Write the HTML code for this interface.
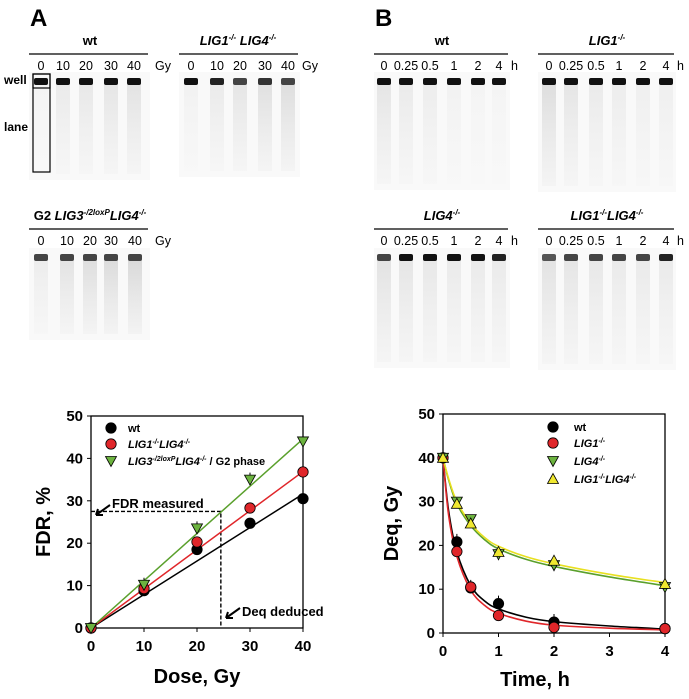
<!DOCTYPE html>
<html><head><meta charset="utf-8"><style>
body{margin:0;background:#fff;}
svg{display:block;font-family:"Liberation Sans",Arial,sans-serif;}
.b{font-weight:bold}
</style></head><body>
<svg id="fig" width="689" height="699" viewBox="0 0 689 699">
<defs>
<linearGradient id="lane" x1="0" y1="0" x2="0" y2="1">
<stop offset="0" stop-color="#c8c8c8"/><stop offset="0.5" stop-color="#dedede"/><stop offset="1" stop-color="#f0f0f0"/>
</linearGradient>
</defs>
<g id="gels"></g>
<g id="chartA"></g>
<g id="chartB"></g>
</svg>
<script>
const NS='http://www.w3.org/2000/svg';
function mk(parent,tag,attrs,text){const e=document.createElementNS(NS,tag);for(const k in attrs)e.setAttribute(k,attrs[k]);if(text!==undefined)e.textContent=text;parent.appendChild(e);return e;}

// ---------- data ----------
const doseX=[0,10,20,30,40];
const fdrWt=[0,8.8,18.5,24.7,30.5];
const fdrLig14=[0,9.3,20.3,28.3,36.8];
const fdrLig3G2=[0,10.2,23.5,35,44];
const fitWtEnd=31.6, fitLig14End=36.9, fitLig3End=44.6;
const fdrTicks=[0,10,20,30,40,50];

const timeX=[0,0.25,0.5,1,2,4];
const deqWt=[40,20.8,10.3,6.7,2.5,1.0];
const deqLig1=[40,18.6,10.5,4.0,1.3,1.0];
const deqLig4=[40,30,26,18,15.5,10.5];
const deqLig14=[40,29.5,25,18.5,16.5,11.2];
const fitT=[0,0.1,0.25,0.5,0.75,1,1.5,2,3,4];
const fitWt=[40,28,18.5,10.8,7.3,5.5,3.6,2.6,1.6,0.9];
const fitLig1=[40,27,17.5,9.8,6.3,4.5,2.7,1.8,1.1,0.7];
const fitLig4=[40,35,29.5,24.5,21.3,19.2,16.8,15.2,12.8,10.8];
const fitLig14=[40,35.3,30,25,21.8,19.8,17.4,15.8,13.4,11.5];
const timeTicks=[0,1,2,3,4];

// ---------- gels ----------
const G=document.getElementById('gels');
mk(G,'text',{x:30,y:26,'font-size':24,class:'b',},'A');
mk(G,'text',{x:375,y:26,'font-size':24,class:'b',},'B');
function gel(name,title,hx,hy,lx1,lx2,labels,unit,unitX,lanes,bandDark,gy1,gy2,laneOp){
  const g=mk(G,'g',{});
  const t=mk(g,'text',{x:hx,y:hy,'font-size':13,class:'b','text-anchor':'middle'});
  t.innerHTML=title;
  mk(g,'line',{x1:lx1,x2:lx2,y1:hy+9,y2:hy+9,stroke:'#000','stroke-width':1.2});
  mk(g,'rect',{x:lx1,y:gy1,width:lx2-lx1+2,height:gy2-gy1,fill:'#f9f9f9'});
  labels.forEach((l,i)=>mk(g,'text',{x:lanes[i],y:hy+25,'font-size':12.5,'text-anchor':'middle'},l));
  mk(g,'text',{x:unitX,y:hy+25,'font-size':12.5},unit);
  lanes.forEach((cx,i)=>{
    mk(g,'rect',{x:cx-7,y:gy1+12,width:14,height:gy2-gy1-18,fill:'url(#lane)',opacity:laneOp[i]});
    mk(g,'rect',{x:cx-7,y:gy1+6,width:14,height:7,fill:bandDark[i],rx:2});
  });
  return g;
}
const dk=['#111','#111','#111','#111','#111','#111'];
gel('gel-a-wt','wt',90,45,29,148,['0','10','20','30','40'],'Gy',155,[41,63,86,111,134],dk,72,180,[0.1,0.3,0.35,0.4,0.45]);
gel('gel-a-lig1-lig4','<tspan font-style="italic">LIG1</tspan><tspan font-size="8" dy="-5" font-style="italic">-/-</tspan><tspan dy="5" font-style="italic"> LIG4</tspan><tspan font-size="8" dy="-5" font-style="italic">-/-</tspan>',238,45,179,298,['0','10','20','30','40'],'Gy',302,[191,217,240,265,288],['#111','#222','#444','#333','#444'],72,177,[0.15,0.3,0.4,0.5,0.55]);
gel('gel-a-g2-lig3-lig4','G2 <tspan font-style="italic">LIG3</tspan><tspan font-size="8" dy="-5" font-style="italic">-/2loxP</tspan><tspan dy="5" font-style="italic">LIG4</tspan><tspan font-size="8" dy="-5" font-style="italic">-/-</tspan>',90,220,29,148,['0','10','20','30','40'],'Gy',155,[41,67,90,111,135],['#444','#444','#444','#444','#444'],248,340,[0.25,0.45,0.55,0.6,0.65]);
gel('gel-b-wt','wt',442,45,374,508,['0','0.25','0.5','1','2','4'],'h',511,[384,406,430,454,478,499],dk,72,190,[0.4,0.3,0.25,0.15,0.1,0.1]);
gel('gel-b-lig1','<tspan font-style="italic">LIG1</tspan><tspan font-size="8" dy="-5" font-style="italic">-/-</tspan>',607,45,538,674,['0','0.25','0.5','1','2','4'],'h',677,[549,571,596,619,643,666],dk,72,192,[0.55,0.4,0.3,0.25,0.2,0.2]);
gel('gel-b-lig4','<tspan font-style="italic">LIG4</tspan><tspan font-size="8" dy="-5" font-style="italic">-/-</tspan>',442,220,374,508,['0','0.25','0.5','1','2','4'],'h',511,[384,406,430,454,478,499],['#444','#111','#111','#111','#111','#222'],248,368,[0.45,0.4,0.35,0.3,0.3,0.3]);
gel('gel-b-lig1-lig4','<tspan font-style="italic">LIG1</tspan><tspan font-size="8" dy="-5" font-style="italic">-/-</tspan><tspan dy="5" font-style="italic">LIG4</tspan><tspan font-size="8" dy="-5" font-style="italic">-/-</tspan>',607,220,538,674,['0','0.25','0.5','1','2','4'],'h',677,[549,571,596,619,643,666],['#555','#444','#444','#444','#444','#222'],248,370,[0.45,0.4,0.35,0.3,0.3,0.3]);
// well/lane annotation
mk(G,'text',{x:4,y:84,'font-size':12,class:'b',},'well');
mk(G,'text',{x:4,y:131,'font-size':12,class:'b',},'lane');
mk(G,'rect',{x:33,y:74,width:17,height:98,fill:'none',stroke:'#000','stroke-width':1.2});
mk(G,'rect',{x:33,y:74,width:17,height:14,fill:'none',stroke:'#000','stroke-width':1.2});

// ---------- helpers ----------
function marker(g,shape,x,y,fill,name){
  let e;
  if(shape==='c')e=mk(g,'circle',{cx:x,cy:y,r:5.2,fill:fill,stroke:'#000','stroke-width':0.8});
  else if(shape==='d')e=mk(g,'polygon',{points:`${x-5.5},${y-4.5} ${x+5.5},${y-4.5} ${x},${y+5.5}`,fill:fill,stroke:'#000','stroke-width':0.8});
  else e=mk(g,'polygon',{points:`${x-5.5},${y+4.5} ${x+5.5},${y+4.5} ${x},${y-5.5}`,fill:fill,stroke:'#000','stroke-width':0.8});
  
  
}
function smooth(pts){let d=`M${pts[0][0]},${pts[0][1]}`;for(let i=0;i<pts.length-1;i++){const p0=pts[Math.max(0,i-1)],p1=pts[i],p2=pts[i+1],p3=pts[Math.min(pts.length-1,i+2)];d+=` C${p1[0]+(p2[0]-p0[0])/6},${p1[1]+(p2[1]-p0[1])/6} ${p2[0]-(p3[0]-p1[0])/6},${p2[1]-(p3[1]-p1[1])/6} ${p2[0]},${p2[1]}`;}return d;}

// ---------- chart A ----------
(function(){
  const g=document.getElementById('chartA');
  const L=91,R=303,T=416,B=628;
  const sx=v=>L+v/40*(R-L), sy=v=>B-v/50*(B-T);
  mk(g,'rect',{x:L,y:T,width:R-L,height:B-T,fill:'none',stroke:'#000','stroke-width':1.3});
  fdrTicks.forEach(v=>{mk(g,'line',{x1:L-4,x2:L,y1:sy(v),y2:sy(v),stroke:'#000'});
    const t=mk(g,'text',{x:L-8,y:sy(v)+5,'font-size':15,class:'b','text-anchor':'end'},v);
    });
  doseX.forEach(v=>{mk(g,'line',{x1:sx(v),x2:sx(v),y1:B,y2:B+4,stroke:'#000'});
    const t=mk(g,'text',{x:sx(v),y:B+23,'font-size':15,class:'b','text-anchor':'middle'},v);
    });
  const yt=mk(g,'text',{x:0,y:0,'font-size':20,class:'b','text-anchor':'middle',transform:`translate(50,${(T+B)/2}) rotate(-90)`},'FDR, %');
  
  const xt=mk(g,'text',{x:197,y:683,'font-size':20,class:'b','text-anchor':'middle'},'Dose, Gy');
  
  mk(g,'path',{d:`M${sx(0)},${sy(27.5)} H${sx(24.5)} V${B}`,fill:'none',stroke:'#000','stroke-width':1.4,'stroke-dasharray':'4,2',});
  mk(g,'path',{d:`M110,505 L96,515 M96,515 l7,0 M96,515 l2,-6`,stroke:'#000','stroke-width':2,fill:'none'});
  mk(g,'text',{x:112,y:508,'font-size':13,class:'b',},'FDR measured');
  mk(g,'path',{d:`M240,608 L226,618 M226,618 l7,0 M226,618 l2,-6`,stroke:'#000','stroke-width':2,fill:'none'});
  mk(g,'text',{x:242,y:616,'font-size':13,class:'b',},'Deq deduced');
  [[fitWtEnd,'#000','fit-wt'],[fitLig14End,'#e0262a','fit-lig1-lig4'],[fitLig3End,'#5aa02c','fit-lig3-lig4-g2']].forEach(([e,c,n])=>{
    const l=mk(g,'line',{x1:sx(0),y1:sy(0),x2:sx(40),y2:sy(e),stroke:c,'stroke-width':1.5});
    });
  doseX.forEach((x,i)=>{
    mk(g,'line',{x1:sx(x),x2:sx(x),y1:sy(fdrLig3G2[i])-7,y2:sy(fdrLig3G2[i]),stroke:'#000'});
    marker(g,'c',sx(x),sy(fdrWt[i]),'#000','point-wt');
    marker(g,'c',sx(x),sy(fdrLig14[i]),'#e0262a','point-lig1-lig4');
    marker(g,'d',sx(x),sy(fdrLig3G2[i]),'#6cb33f','point-lig3-lig4-g2');
  });
  const lg=mk(g,'g',{});
  marker(lg,'c',111,428,'#000','legend-marker-wt');
  marker(lg,'c',111,444,'#e0262a','legend-marker-lig1-lig4');
  marker(lg,'d',111,461,'#6cb33f','legend-marker-lig3');
  mk(lg,'text',{x:128,y:432,'font-size':11,class:'b'},'wt');
  mk(lg,'text',{x:128,y:448,'font-size':11,class:'b'}).innerHTML='<tspan font-style="italic">LIG1</tspan><tspan font-size="7" dy="-4" font-style="italic">-/-</tspan><tspan dy="4" font-style="italic">LIG4</tspan><tspan font-size="7" dy="-4" font-style="italic">-/-</tspan>';
  mk(lg,'text',{x:128,y:465,'font-size':11,class:'b'}).innerHTML='<tspan font-style="italic">LIG3</tspan><tspan font-size="7" dy="-4" font-style="italic">-/2loxP</tspan><tspan dy="4" font-style="italic">LIG4</tspan><tspan font-size="7" dy="-4" font-style="italic">-/-</tspan><tspan dy="4"> / G2 phase</tspan>';
})();

// ---------- chart B ----------
(function(){
  const g=document.getElementById('chartB');
  const L=443,R=665,T=414,B=633;
  const sx=v=>L+v/4*(R-L), sy=v=>B-v/50*(B-T);
  mk(g,'rect',{x:L,y:T,width:R-L,height:B-T,fill:'none',stroke:'#000','stroke-width':1.3});
  fdrTicks.forEach(v=>{mk(g,'line',{x1:L-4,x2:L,y1:sy(v),y2:sy(v),stroke:'#000'});
    const t=mk(g,'text',{x:L-8,y:sy(v)+5,'font-size':15,class:'b','text-anchor':'end'},v);
    });
  timeTicks.forEach(v=>{mk(g,'line',{x1:sx(v),x2:sx(v),y1:B,y2:B+4,stroke:'#000'});
    const t=mk(g,'text',{x:sx(v),y:B+23,'font-size':15,class:'b','text-anchor':'middle'},v);
    });
  const yt=mk(g,'text',{x:0,y:0,'font-size':20,class:'b','text-anchor':'middle',transform:`translate(398,${(T+B)/2}) rotate(-90)`},'Deq, Gy');
  
  const xt=mk(g,'text',{x:535,y:686,'font-size':20,class:'b','text-anchor':'middle'},'Time, h');
  
  [[fitWt,'#000','fit-wt'],[fitLig1,'#e0262a','fit-lig1'],[fitLig4,'#5aa02c','fit-lig4'],[fitLig14,'#e8e020','fit-lig1-lig4']].forEach(([arr,c,n])=>{
    const p=mk(g,'path',{d:smooth(fitT.map((t,i)=>[sx(t),sy(arr[i])])),fill:'none',stroke:c,'stroke-width':1.6});
    });
  timeX.forEach((x,i)=>{
    if(i>0){mk(g,'line',{x1:sx(x),x2:sx(x),y1:sy(deqWt[i])-8,y2:sy(deqWt[i]),stroke:'#000'});
      mk(g,'line',{x1:sx(x),x2:sx(x),y1:sy(deqLig4[i]),y2:sy(deqLig4[i])+6,stroke:'#000'});}
    marker(g,'c',sx(x),sy(deqWt[i]),'#000','point-wt');
    marker(g,'c',sx(x),sy(deqLig1[i]),'#e0262a','point-lig1');
    marker(g,'d',sx(x),sy(deqLig4[i]),'#6cb33f','point-lig4');
    marker(g,'u',sx(x),sy(deqLig14[i]),'#f0e830','point-lig1-lig4');
  });
  const lg=mk(g,'g',{});
  marker(lg,'c',553,427,'#000','legend-marker-wt');
  marker(lg,'c',553,443,'#e0262a','legend-marker-lig1');
  marker(lg,'d',553,461,'#6cb33f','legend-marker-lig4');
  marker(lg,'u',553,479,'#f0e830','legend-marker-lig1-lig4');
  mk(lg,'text',{x:574,y:431,'font-size':11,class:'b'},'wt');
  mk(lg,'text',{x:574,y:447,'font-size':11,class:'b'}).innerHTML='<tspan font-style="italic">LIG1</tspan><tspan font-size="7" dy="-4" font-style="italic">-/-</tspan>';
  mk(lg,'text',{x:574,y:465,'font-size':11,class:'b'}).innerHTML='<tspan font-style="italic">LIG4</tspan><tspan font-size="7" dy="-4" font-style="italic">-/-</tspan>';
  mk(lg,'text',{x:574,y:483,'font-size':11,class:'b'}).innerHTML='<tspan font-style="italic">LIG1</tspan><tspan font-size="7" dy="-4" font-style="italic">-/-</tspan><tspan dy="4" font-style="italic">LIG4</tspan><tspan font-size="7" dy="-4" font-style="italic">-/-</tspan>';
})();
</script>
</body></html>
